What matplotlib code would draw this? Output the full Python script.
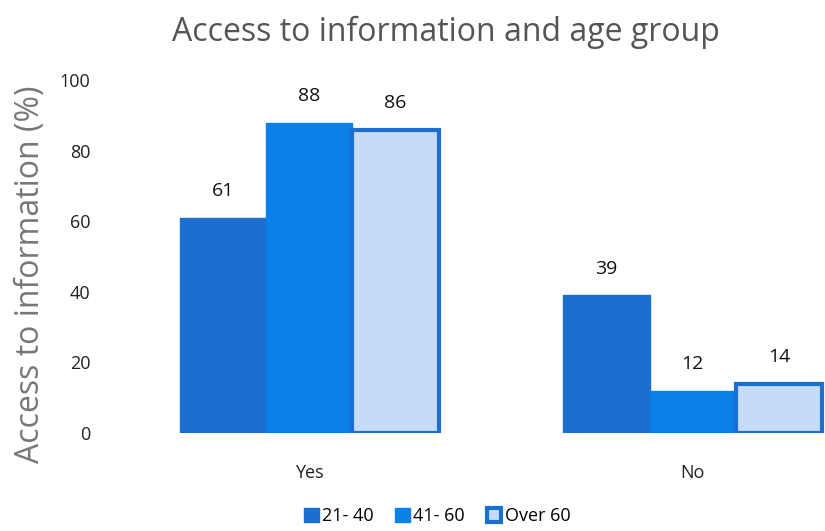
import numpy as np
import matplotlib
matplotlib.use("Agg")
import matplotlib.pyplot as plt

categories = ["Yes", "No"]
age_groups = ["21- 40", "41- 60", "Over 60"]
age_21_40 = [61, 39]
age_41_60 = [88, 12]
over_60 = [86, 14]

plt.rcParams['font.family'] = ['Open Sans', 'DejaVu Sans']

fig = plt.figure(figsize=(8.25, 5.31), dpi=100)
ax = fig.add_axes([0.133, 0.1846, 0.867, 0.6644])

x = np.arange(len(categories))
w = 0.225
fills = ["#1a6fcf", "#0a80e8", "#c6dcf6"]
edges = ["#1a6fcf", "#0a80e8", "#1a6fcf"]
series = [age_21_40, age_41_60, over_60]

for i, (vals, name) in enumerate(zip(series, age_groups)):
    pos = x + (i - 1) * w
    bars = ax.bar(pos, vals, w, color=fills[i], edgecolor=edges[i],
                  linewidth=3 if i == 2 else 1, label=name)
    for b, v in zip(bars, vals):
        ax.text(b.get_x() + b.get_width() / 2, v + 5, str(v),
                ha="center", va="bottom", fontsize=14, color="#111111")

ax.set_xlim(-0.52, 1.345)
ax.set_ylim(0, 100)
ax.set_yticks(range(0, 101, 20))
ax.set_xticks(x)
ax.set_xticklabels(categories)
ax.tick_params(length=0, labelsize=13, colors="#222222")
ax.tick_params(axis="x", pad=22)
ax.tick_params(axis="y", pad=14)
for s in ax.spines.values():
    s.set_visible(False)

ax.set_ylabel("Access to information (%)", fontsize=23, color="#777777")
ax.yaxis.set_label_coords(-0.088, 0.45)
fig.suptitle("Access to information and age group", fontsize=23,
             color="#555555", x=0.54, y=0.97)

fig.legend(loc="lower center", bbox_to_anchor=(0.53, -0.02), ncol=3,
           frameon=False, fontsize=13, handlelength=0.8, handleheight=0.8,
           handletextpad=0.2, columnspacing=1.2)

fig.savefig("out.png", dpi=100)
